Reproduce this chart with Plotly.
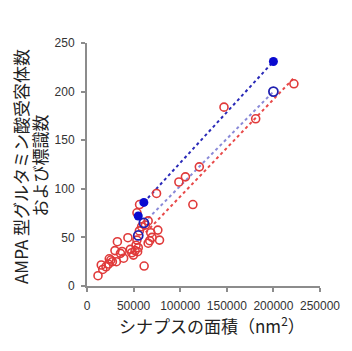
import plotly.graph_objects as go

# Red open circles (labeled counts)
red_x = [11800, 15300, 16900, 20400, 23000, 23900, 25600, 27200, 30000, 32600,
         31500, 35900, 37600, 39300, 43900, 46500, 48000, 49800, 51600, 52600,
         53600, 54300, 55000, 53600, 56400, 56200, 58600, 61300, 62700, 65600,
         65600, 67300, 68400, 69800, 76000, 77800, 74600, 98600, 105600, 113600,
         120500, 147000, 181000, 222000]
red_y = [10.6, 21.6, 17, 19.8, 22.6, 28, 26.7, 25, 36.4, 45.6,
         25, 33.6, 35.5, 28.6, 49.7, 37.7, 34.2, 31.8, 36.4, 42,
         47.2, 35.3, 39.4, 75.3, 83.8, 56.7, 61, 20.5, 62.7, 67,
         44, 46.6, 54.8, 50, 57.5, 47.2, 95.2, 107, 112.3, 83.8,
         122.6, 184, 172, 208]

blue_filled_x = [55000, 61000, 200000]
blue_filled_y = [72, 86, 231]
blue_open_x = [55000, 61000, 200000]
blue_open_y = [52, 65, 200]

line_dark_x = [61000, 200000]
line_dark_y = [86, 231]
line_light_x = [61000, 200000]
line_light_y = [65, 200]
line_red_x = [63000, 222000]
line_red_y = [55, 214]

x_ticks = [0, 50000, 100000, 150000, 200000, 250000]
y_ticks = [0, 50, 100, 150, 200, 250]

y_title_lines = ["AMPA 型グルタミン酸受容体数", "および標識数"]
x_title = "シナプスの面積（nm<sup>2</sup>）"

fig = go.Figure()
fig.add_trace(go.Scatter(x=line_red_x, y=line_red_y, mode="lines",
                         line=dict(color="#e84a4a", width=2, dash="dot"), showlegend=False))
fig.add_trace(go.Scatter(x=line_light_x, y=line_light_y, mode="lines",
                         line=dict(color="#8a8ad8", width=2, dash="dot"), showlegend=False))
fig.add_trace(go.Scatter(x=line_dark_x, y=line_dark_y, mode="lines",
                         line=dict(color="#2a2ab8", width=2, dash="dot"), showlegend=False))
fig.add_trace(go.Scatter(x=red_x, y=red_y, mode="markers",
                         marker=dict(symbol="circle-open", size=8, color="#e03a3a",
                                     line=dict(width=1.6)), showlegend=False))
fig.add_trace(go.Scatter(x=blue_open_x, y=blue_open_y, mode="markers",
                         marker=dict(symbol="circle-open", size=9, color="#1f1fb0",
                                     line=dict(width=1.8)), showlegend=False))
fig.add_trace(go.Scatter(x=blue_filled_x, y=blue_filled_y, mode="markers",
                         marker=dict(symbol="circle", size=9, color="#0a0ad0"), showlegend=False))

axis_common = dict(showgrid=False, zeroline=False, showline=True, linecolor="#8c8c8c",
                   linewidth=2, ticks="outside", ticklen=4, tickcolor="#8c8c8c", tickwidth=1.5,
                   ticklabelstandoff=4,
                   tickfont=dict(family="Liberation Sans, Arial", size=12, color="#333333"))
fig.update_xaxes(range=[0, 250000], tickvals=x_ticks, ticktext=[str(v) for v in x_ticks], **axis_common)
fig.update_yaxes(range=[0, 250], tickvals=y_ticks, **axis_common)

fig.add_annotation(text=x_title, xref="paper", yref="paper",
                   x=0.535, y=-0.16, xanchor="center", yanchor="middle", showarrow=False,
                   font=dict(family="Noto Sans CJK JP", size=17, color="#222222"))
fig.add_annotation(text=y_title_lines[0], xref="paper", yref="paper",
                   x=-0.283, y=0.49, xanchor="center", yanchor="middle", showarrow=False,
                   textangle=-90,
                   font=dict(family="Noto Sans CJK JP", size=17, color="#222222"))
fig.add_annotation(text=y_title_lines[1], xref="paper", yref="paper",
                   x=-0.2, y=0.498, xanchor="center", yanchor="middle", showarrow=False,
                   textangle=-90,
                   font=dict(family="Noto Sans CJK JP", size=17, color="#222222"))

fig.update_layout(width=352, height=351, margin=dict(l=87, r=25, t=43, b=65),
                  plot_bgcolor="white", paper_bgcolor="white")
fig.write_html("out.html")
